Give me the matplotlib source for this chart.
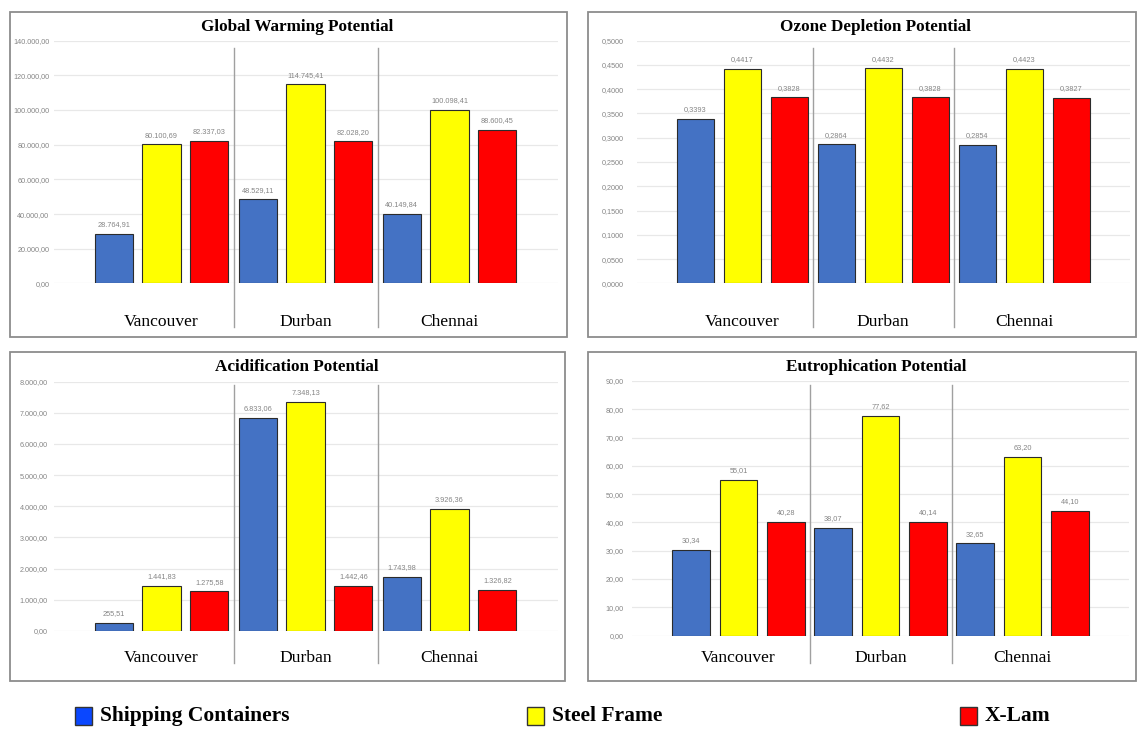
import matplotlib.pyplot as plt
from matplotlib.patches import Rectangle
import numpy as np

# data
cities = ['Vancouver', 'Durban', 'Chennai']
series = ['Shipping Containers', 'Steel Frame', 'X-Lam']

gwp_sc = [28764.91, 48529.11, 40149.84]
gwp_sf = [80100.69, 114745.41, 100098.41]
gwp_xl = [82337.03, 82028.20, 88600.45]

odp_sc = [0.3393, 0.2864, 0.2854]
odp_sf = [0.4417, 0.4432, 0.4423]
odp_xl = [0.3828, 0.3828, 0.3827]

ap_sc = [255.51, 6833.06, 1743.98]
ap_sf = [1441.83, 7348.13, 3926.36]
ap_xl = [1275.58, 1442.46, 1326.82]

ep_sc = [30.34, 38.07, 32.65]
ep_sf = [55.01, 77.62, 63.20]
ep_xl = [40.28, 40.14, 44.10]

bar_colors = ['#4472C4', '#FFFF00', '#FF0000']
legend_colors = ['#0A47FF', '#FFFF00', '#FF0000']

W, H = 1137, 729
fig = plt.figure(figsize=(W / 100, H / 100), dpi=100)

small_font = ['Liberation Sans Narrow', 'Liberation Sans', 'DejaVu Sans']
serif = ['Liberation Serif', 'DejaVu Serif']


def euro(v, dec):
    s = f'{v:,.{dec}f}'
    return s.replace(',', 'X').replace('.', ',').replace('X', '.')


def px(x, y):
    return x / W, 1 - y / H


def panel(title, vals, ymax, ystep, dec, box, ax_px, sep_px, title_x, cat_y, pad):
    # frame around the panel
    x0, y0, x1, y1 = box
    fig.patches.append(Rectangle(px(x0, y1), (x1 - x0) / W, (y1 - y0) / H,
                                 transform=fig.transFigure, fill=False,
                                 edgecolor='#8C8C8C', linewidth=1.3))
    L, R, top, bot = ax_px
    ax = fig.add_axes([L / W, 1 - bot / H, (R - L) / W, (bot - top) / H])
    ax.set_xlim(-0.75, 2.75)
    ax.set_ylim(0, ymax)
    ax.set_yticks(np.arange(0, ymax + ystep / 2, ystep))
    ax.set_yticklabels([euro(t, dec) for t in ax.get_yticks()],
                       family=small_font, fontsize=5.2, color='#858585')
    ax.tick_params(axis='y', length=0, pad=pad)
    ax.set_xticks([])
    for sp in ax.spines.values():
        sp.set_visible(False)
    ax.grid(axis='y', color='#E8E8E8', linewidth=0.9)
    ax.set_axisbelow(True)

    x = np.arange(len(cities))
    w = 0.264
    for i, v in enumerate(vals):
        xs = x + (i - 1) * 0.333
        ax.bar(xs, v, width=w, color=bar_colors[i], edgecolor='#2B2B2B', linewidth=0.8)
        for xi, vi in zip(xs, v):
            ax.annotate(euro(vi, dec), (xi, vi), xytext=(0, 4), textcoords='offset points',
                        ha='center', va='bottom', fontsize=5.3, color='#858585',
                        family=small_font)

    # separators between the city groups
    sep_top, sep_bot = sep_px
    for s in [0.5, 1.5]:
        ax.plot([s, s], [(bot - sep_top) / (bot - top), (bot - sep_bot) / (bot - top)],
                transform=ax.get_xaxis_transform(), color='#A0A0A0', linewidth=1.0,
                clip_on=False)
    for xi, c in zip(x, cities):
        ax.text(xi, (bot - cat_y) / (bot - top), c, transform=ax.get_xaxis_transform(),
                ha='center', va='center', fontsize=12.6, family=serif)

    fig.text(title_x / W, 1 - (box[1] + 15) / H, title, ha='center', va='center',
             fontsize=12.3, fontweight='bold', family=serif)
    return ax


panel('Global Warming Potential', [gwp_sc, gwp_sf, gwp_xl], 140000, 20000, 2,
      (10, 12, 567, 337), (53.5, 557.5, 40.5, 283.5), (48, 327), 297, 322, 3)
panel('Ozone Depletion Potential', [odp_sc, odp_sf, odp_xl], 0.5, 0.05, 4,
      (588, 12, 1136, 337), (636.5, 1130, 40.5, 283.5), (48, 327), 876, 322, 9)
panel('Acidification Potential', [ap_sc, ap_sf, ap_xl], 8000, 1000, 2,
      (10, 352, 565, 681), (53.5, 557.5, 381.5, 631), (385, 663), 297, 658, 4)
panel('Eutrophication Potential', [ep_sc, ep_sf, ep_xl], 90, 10, 2,
      (588, 352, 1136, 681), (632, 1129, 381, 635.5), (385, 663), 876, 658, 6)

# legend along the bottom
leg_x = [75, 527, 960]
for lx, lab, col in zip(leg_x, series, legend_colors):
    fig.patches.append(Rectangle(px(lx, 725), 17 / W, 18 / H, transform=fig.transFigure,
                                 facecolor=col, edgecolor='#333333', linewidth=1.0))
    fig.text((lx + 25) / W, 1 - 716 / H, lab, ha='left', va='center',
             fontsize=15.5, fontweight='bold', family=serif)

fig.savefig('out.png', dpi=100)
